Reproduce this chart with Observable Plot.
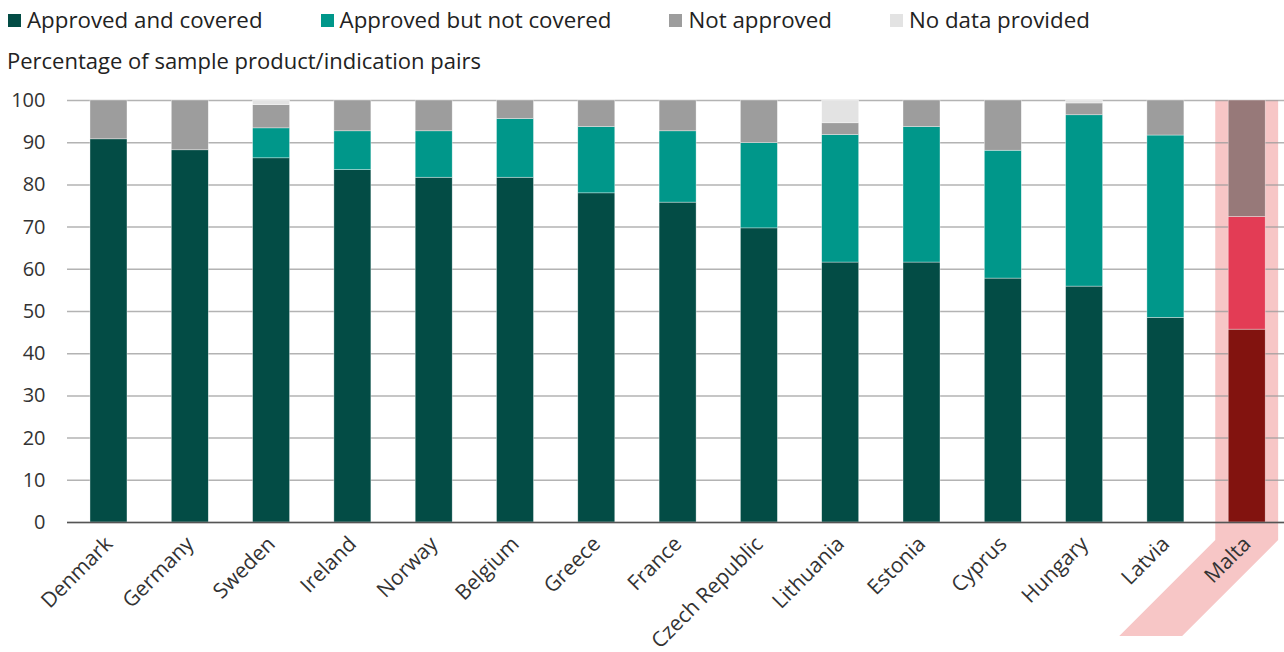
<!DOCTYPE html>
<html><head><meta charset="utf-8">
<script src="https://cdn.jsdelivr.net/npm/d3@7"></script>
<script src="https://cdn.jsdelivr.net/npm/@observablehq/plot@0.6"></script>
<style>
body{margin:0;background:#fff;font-family:"Open Sans",sans-serif;color:#222;}
#wrap{position:relative;width:1284px;height:652px;overflow:hidden}
#legend{position:absolute;left:8px;top:5px;display:flex;gap:58px;font-size:22.3px;line-height:30px;color:#222}
.item{display:flex;align-items:center;white-space:nowrap}
.sw{width:13px;height:13px;margin-right:6px;display:inline-block}
#ylab{position:absolute;left:7px;top:45px;font-size:22px;line-height:30px;color:#222}
#chart{position:absolute;left:0;top:80px}
</style></head><body>
<div id="wrap">
<div id="legend"></div>
<div id="ylab">Percentage of sample product/indication pairs</div>
<div id="chart"></div>
</div>
<script>
const countries = ["Denmark","Germany","Sweden","Ireland","Norway","Belgium","Greece","France","Czech Republic","Lithuania","Estonia","Cyprus","Hungary","Latvia","Malta"];
const covered     = [90.8, 88.2, 86.3, 83.5, 81.7, 81.7, 78.0, 75.8, 69.7, 61.6, 61.6, 57.8, 55.9, 48.5, 45.7];
const notCovered  = [0,    0,    7.1,  9.2,  11.0, 13.9, 15.7, 16.9, 20.2, 30.2, 32.1, 30.3, 40.6, 43.2, 26.7];
const notApproved = [9.2,  11.8, 5.5,  7.3,  7.3,  4.4,  6.3,  7.3,  10.1, 2.8,  6.3,  11.9, 2.8,  8.3,  27.6];
const noData      = [0,    0,    1.1,  0,    0,    0,    0,    0,    0,    5.4,  0,    0,    0.7,  0,    0];
const categories = ["Approved and covered","Approved but not covered","Not approved","No data provided"];
const colors = ["#034c45","#00978a","#9d9d9d","#e3e3e3"];
const highlightColors = ["#82130f","#e33c55","#977979","#e3e3e3"];
const highlightCountry = "Malta";
const yTicks = [0,10,20,30,40,50,60,70,80,90,100];

// legend
const lg = document.getElementById("legend");
categories.forEach((c,i)=>{
  const it = document.createElement("div"); it.className="item";
  it.innerHTML = `<span class="sw" style="background:${colors[i]}"></span>${c}`;
  lg.appendChild(it);
});

const series = [covered, notCovered, notApproved, noData];
const rows = [];
countries.forEach((c,i)=>{
  series.forEach((arr,k)=>{
    rows.push({country:c, category:categories[k], value:arr[i],
      fill:(c===highlightCountry?highlightColors:colors)[k]});
  });
});

const chart = Plot.plot({
  width:1284, height:572, marginTop:20, marginBottom:130, marginLeft:67, marginRight:0,
  style:{fontFamily:"Open Sans, sans-serif", fontSize:"20px", color:"#333", background:"transparent", overflow:"visible"},
  x:{domain:countries, paddingInner:0.545, paddingOuter:0.257, align:0.55, round:false, axis:null},
  y:{domain:[0,100], axis:null},
  color:{type:"identity"},
  marks:[
    Plot.gridY(yTicks, {stroke:"#9a9a9a", strokeOpacity:0.75, strokeWidth:1.5}),
    Plot.barY(rows, {x:"country", y:"value", fill:"fill", stroke:"#ffffff", strokeWidth:0.6, strokeOpacity:0.6}),
    Plot.ruleY([0], {stroke:"#555", strokeWidth:1.5}),
    Plot.axisY(yTicks, {label:null, tickSize:0, tickPadding:22, fontSize:20, fill:"#333"}),
    Plot.text(countries, {x:d=>d, frameAnchor:"bottom", rotate:-45, textAnchor:"end", lineAnchor:"middle", dx:0, dy:18, fontSize:21, fill:"#333"})
  ]
});
document.getElementById("chart").appendChild(chart);

// highlight band behind Malta
const xs = chart.scale("x"), ys = chart.scale("y");
const cx = xs.apply(highlightCountry) + xs.bandwidth/2;
const half = xs.bandwidth*0.85;
const yTop = ys.apply(100), yBase = ys.apply(0);
const drop = 18, diag = 96;
const pts = [[cx-half,yTop],[cx+half,yTop],[cx+half,yBase+drop],[cx+half-diag,yBase+drop+diag],[cx-half-diag,yBase+drop+diag],[cx-half,yBase+drop]];
const firstG = chart.querySelector("g");
const poly = document.createElementNS("http://www.w3.org/2000/svg","polygon");
poly.setAttribute("points", pts.map(p=>p.join(",")).join(" "));
poly.setAttribute("fill", "#f7c6c6");
chart.insertBefore(poly, firstG);
</script>
</body></html>
